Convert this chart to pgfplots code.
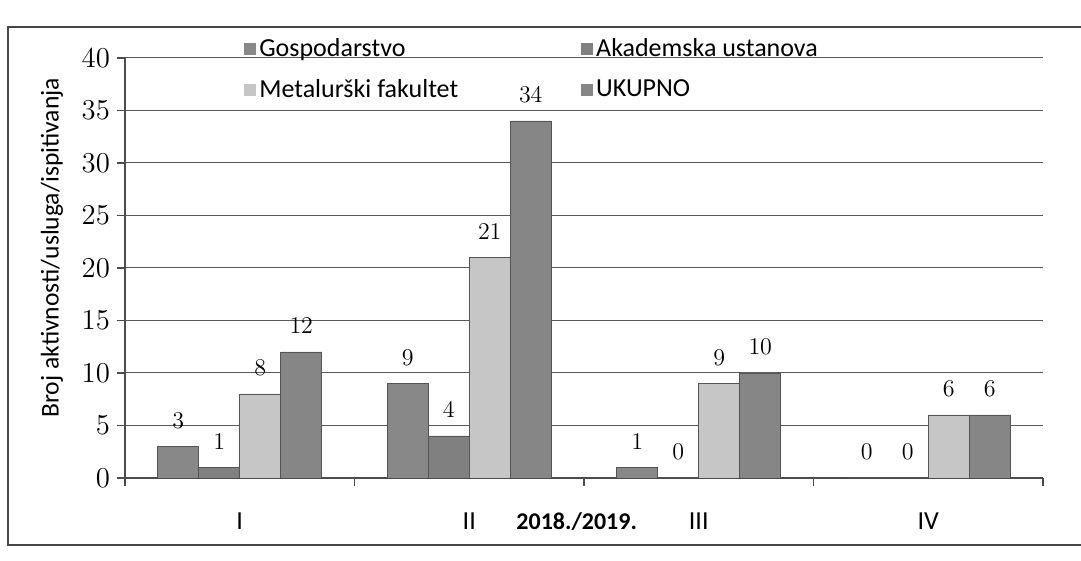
\documentclass[border=0pt]{standalone}
\usepackage{pgfplots}
\pgfplotsset{compat=1.18}
\usepackage{fontspec}
\setmainfont{Carlito}
\definecolor{gosp}{RGB}{136,136,136}
\definecolor{akad}{RGB}{128,128,128}
\definecolor{metal}{RGB}{198,198,198}
\definecolor{ukup}{RGB}{134,134,134}
\definecolor{edge}{RGB}{85,85,85}
\begin{document}
\begin{tikzpicture}
\useasboundingbox (0,0) rectangle (540.5pt,280.5pt);
\fill[white] (0,0) rectangle (540.5pt,280.5pt);
\draw[gray!55!black, line width=0.6pt] (4pt,8pt) rectangle (560pt,267pt);
\begin{axis}[
  at={(62.5pt,41.5pt)}, anchor=south west,
  scale only axis, width=459pt, height=210pt,
  ybar=0pt, bar width=20.5pt,
  xmin=-0.5, xmax=3.5, ymin=0, ymax=40,
  xtick={0,1,2,3}, xticklabels={I,II,III,IV},
  minor xtick={-0.5,0.5,1.5,2.5,3.5},
  major x tick style={draw=none},
  minor tick length=4pt, major tick length=4pt,
  tick align=outside,
  ytick={0,5,...,40},
  ymajorgrids, grid style={gray!70!black, line width=0.5pt},
  axis x line*=bottom, axis y line*=left,
  axis line style={gray!60!black, line width=0.6pt},
  tick style={gray!60!black, line width=0.6pt},
  yticklabel style={font=\fontsize{13.5}{15}\selectfont, black},
  xticklabel style={font=\fontsize{13}{15}\selectfont, anchor=base, yshift=-22pt},
  xlabel={\bfseries 2018./2019.},
  xlabel style={at={(axis description cs:0.492,0)}, anchor=base, yshift=-26pt, font=\fontsize{12}{14}\selectfont},
  ylabel={Broj aktivnosti/usluga/ispitivanja},
  ylabel style={at={(axis description cs:-0.0795,0.548)}, anchor=center, font=\fontsize{12.8}{14}\selectfont},
  nodes near coords,
  nodes near coords style={font=\fontsize{13}{15}\selectfont, black, anchor=south, yshift=5.5pt},
  every axis plot/.append style={draw=edge, line width=0.4pt},
  area legend,
  legend image code/.code={\fill[#1,draw=none] (0pt,-3pt) rectangle (6pt,3pt);},
  legend columns=2,
  legend style={at={(rel axis cs:0.123,1.067)}, anchor=north west, draw=none, fill=none,
    font=\fontsize{13}{14}\selectfont,
    /tikz/every even column/.append style={column sep=60pt},
    row sep=6pt,
    nodes={inner xsep=1.5pt}},
  legend cell align=left,
]
\addplot[fill=gosp] coordinates {(0,3) (1,9) (2,1) (3,0)};
\addplot[fill=akad] coordinates {(0,1) (1,4) (2,0) (3,0)};
\addplot[fill=metal] coordinates {(0,8) (1,21) (2,9) (3,6)};
\addplot[fill=ukup] coordinates {(0,12) (1,34) (2,10) (3,6)};
\legend{Gospodarstvo, Akademska ustanova, Metalurški fakultet, UKUPNO}
\end{axis}
\end{tikzpicture}
\end{document}
